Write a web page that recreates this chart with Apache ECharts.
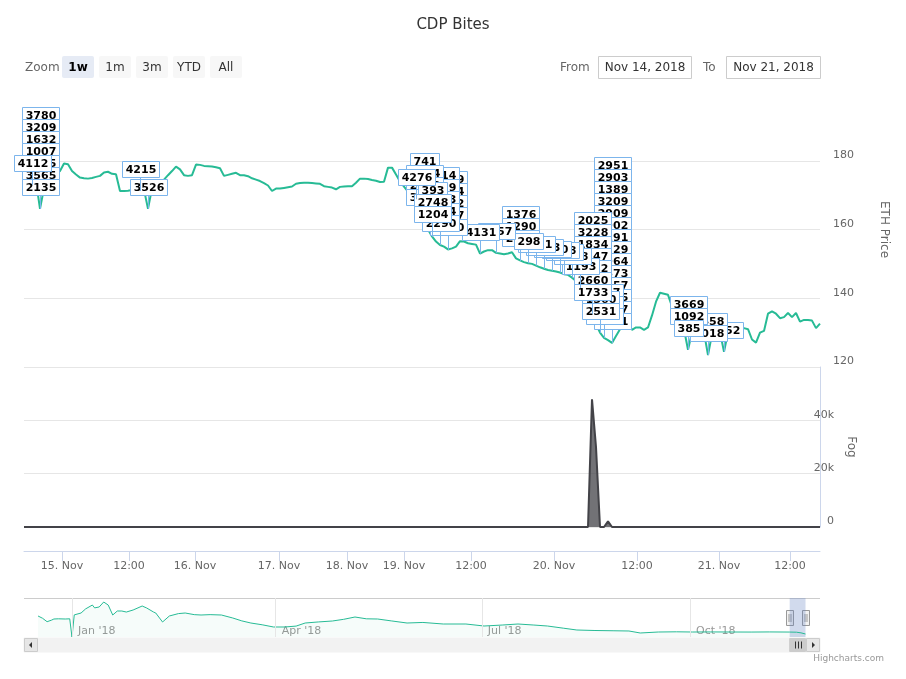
<!DOCTYPE html>
<html><head><meta charset="utf-8">
<script src="https://cdn.jsdelivr.net/npm/echarts@6/dist/echarts.min.js"></script>
<style>html,body{margin:0;padding:0;background:#fff}#c{width:906px;height:679px}</style>
</head><body><div id="c"></div>
<script>
// ---------- DATA ----------
// ETH price, one value per ordinal (evenly spaced) point, 14 Nov -> 21 Nov 2018
const priceValues = [
175,176,173,174,166,172,174.5,175.5,176,177,
179.2,179,177,176,175.1,174.9,174.8,175,175.3,175.6,
176.6,176.8,176.2,176.1,171.2,171.2,171.3,171.5,171.4,171.2,
171.6,166,172,172.5,173,174.5,175.8,177,178.3,177.5,
175.8,175.6,175.8,178.9,178.8,178.5,178.4,178.3,178.1,177.8,
175.6,175.9,176.2,176.5,175.8,175.8,175.5,174.9,174.5,174.1,
173.5,172.8,171.2,171.9,171.9,172.1,172.3,172.5,173.3,173.5,
173.6,173.6,173.5,173.4,173.3,172.6,172.4,172.2,171.7,172.4,
172.5,172.6,172.6,173.6,174.8,174.8,174.7,174.4,174.2,173.8,
173.9,178,178,176,174,172.5,171,170,168.8,166,
163,160,158,156.5,155.5,155,154.2,154.5,155,156.6,
156.5,156,155.8,155.6,153,153.6,154,154,153.2,153,
152.8,153,153.4,151.6,151,150.5,150.2,150,149.5,149,
148.6,148.2,148,147.8,147.5,147,146.8,146,145,143,
140.5,138,135.5,132.5,130,128.5,127.8,127,129,131,
132,133,130.8,131.5,131.5,130.8,131.5,135,139,141.6,
141.3,141,137.6,134,132,131,125,130,130.5,130.2,
130,123.5,129.5,130,130.2,124.4,130,130.5,130.8,131,
131.3,131,128,127.1,130,130.5,135.5,136.2,135.5,134.2,
134.5,135.7,134.5,135.7,133.2,133.7,133.7,133.5,131.3,132.6
];
// x-axis tick labels and their ordinal positions
const xTickPositions = [9.5, 26.25, 42.75, 63.75, 80.75, 95, 111.75, 132.5, 153.25, 173.75, 191.5];
const xTickLabels = ['15. Nov','12:00','16. Nov','17. Nov','18. Nov','19. Nov','12:00','20. Nov','12:00','21. Nov','12:00'];
// Fog (non-zero points only, every other point is 0)
const fogPoints = [[142, 47900], [143, 30000], [146, 2100]];
// Bite flags: [ordinal point, bite id]
const flagList = [
  [2,'4112'],
  [4,'2135'],[4,'3565'],[4,'1525'],[4,'1007'],[4,'1632'],[4,'3209'],[4,'3780'],
  [29,'4215'],[31,'3526'],
  [98,'4276'],
  [102,'1204'],[102,'2748'],[102,'393'],
  [100,'3264'],[100,'2810'],[100,'1954'],[100,'741'],
  [104,'2290'],[104,'5264'],[104,'1733'],[104,'3019'],[104,'2214'],
  [106,'1450'],[106,'2377'],[106,'3102'],[106,'2664'],[106,'1849'],
  [114,'4131'],[118,'2157'],
  [126,'298'],
  [124,'2870'],[124,'1290'],[124,'1376'],
  [128,'1861'],[130,'2413'],[132,'3320'],[134,'1178'],
  [135,'3358'],[137,'2708'],[139,'1193'],
  [142,'1733'],[142,'2660'],[142,'3412'],[142,'1247'],[142,'1834'],[142,'3228'],[142,'2025'],
  [144,'2531'],[144,'1560'],[145,'3874'],[145,'2289'],[145,'1047'],
  [147,'1421'],[147,'2207'],[147,'3015'],[147,'3257'],[147,'2873'],[147,'1964'],[147,'2729'],
  [147,'3191'],[147,'1902'],[147,'2909'],[147,'3209'],[147,'1389'],[147,'2903'],[147,'2951'],
  [166,'385'],[166,'1092'],[166,'3669'],
  [171,'1018'],[171,'2458'],
  [175,'4152']
];
// Navigator (whole history)
const navDates = ['2017-12-17','2017-12-19','2017-12-21','2017-12-23','2017-12-24','2017-12-26','2017-12-29','2017-12-31',
 '2018-01-01','2018-01-02','2018-01-05','2018-01-07','2018-01-10','2018-01-11','2018-01-13','2018-01-15','2018-01-17',
 '2018-01-19','2018-01-21','2018-01-23','2018-01-25','2018-01-28','2018-02-01','2018-02-03','2018-02-06','2018-02-07',
 '2018-02-10','2018-02-13','2018-02-17','2018-02-20','2018-02-24','2018-02-27','2018-03-03','2018-03-08','2018-03-13',
 '2018-03-17','2018-03-21','2018-03-26','2018-03-31','2018-04-05','2018-04-10','2018-04-14','2018-04-20','2018-04-26',
 '2018-05-01','2018-05-06','2018-05-11','2018-05-16','2018-05-22','2018-05-29','2018-06-05','2018-06-14','2018-06-24',
 '2018-07-02','2018-07-10','2018-07-17','2018-07-24','2018-07-30','2018-08-06','2018-08-12','2018-08-20','2018-08-28',
 '2018-09-04','2018-09-09','2018-09-17','2018-09-25','2018-10-02','2018-10-10','2018-10-20','2018-10-28','2018-11-05',
 '2018-11-14','2018-11-17','2018-11-19','2018-11-21'];
const navValues = [808,720,588,650,692,700,692,700,
 0,850,923,1080,1230,1120,1154,1346,1230,
 846,1000,1000,960,1038,1192,1115,961,923,
 577,808,900,923,860,846,860,846,731,
 620,538,470,385,385,420,538,580,615,
 680,769,700,692,620,538,560,500,500,
 423,460,500,460,423,340,269,250,240,
 231,154,192,200,192,195,192,190,195,
 190,185,160,115];
const navTickDates = ['2018-01-01','2018-04-01','2018-07-01','2018-10-01'];
const navTickLabels = ["Jan '18","Apr '18","Jul '18","Oct '18"];
const rangeButtons = ['1w','1m','3m','YTD','All'];
const selectedButton = 0;
const fromText = 'Nov 14, 2018', toText = 'Nov 21, 2018';
const selStart = '2018-11-14', selEnd = '2018-11-21';

// ---------- BUILD ----------
const FONT = 'DejaVu Sans';
const LINE = '#27bb95';
const FLAG = '#7cb5ec';
const ts = s => { const [y,m,d] = s.split('-').map(Number); return Date.UTC(y, m-1, d); };
const DAY = 86400000;
const navMin = ts('2018-01-01') - 21.2*DAY, navMax = ts('2018-01-01') + 330.4*DAY;

const priceData = priceValues.map((v,i)=>[i,v]);
const fogValues = priceValues.map(()=>0);
fogPoints.forEach(([i,v])=>{ fogValues[i]=v; });
const fogData = fogValues.map((v,i)=>[i,v]);
const stackCount = {};
const flagItems = flagList.map(([i,label])=>{ const s = stackCount[i]||0; stackCount[i]=s+1; return {i,label,stack:s,price:priceValues[i]}; });
const drawOrder = flagItems.slice().reverse();
const navData = navDates.map((d,i)=>[ts(d), navValues[i]]);
const navTicks = navTickDates.map(ts);
const near = (arr, v) => arr.findIndex(a => Math.abs(a - v) < 1e-6 * Math.max(1, Math.abs(a)));

const chart = echarts.init(document.getElementById('c'));
const option = {
  animation:false,
  backgroundColor:'#fff',
  title:{text:'CDP Bites', left:'center', top:13, textStyle:{fontFamily:FONT, fontSize:15, fontWeight:'normal', color:'#333'}},
  grid:[
    {left:24, right:86, top:92, height:275},
    {left:24, right:86, top:367, height:160},
    {left:24, right:86, top:598, height:39}
  ],
  xAxis:[
    {gridIndex:0, type:'value', min:0, max:priceValues.length-1, show:false},
    {gridIndex:1, type:'value', min:0, max:priceValues.length-1, offset:24,
     axisLine:{onZero:false, lineStyle:{color:'#ccd6eb'}},
     axisTick:{show:true, length:10, lineStyle:{color:'#ccd6eb'}, customValues:xTickPositions},
     axisLabel:{customValues:xTickPositions, formatter:v=>{const k=near(xTickPositions,v); return k>=0?xTickLabels[k]:'';},
       color:'#666', fontSize:11, fontFamily:FONT, margin:10},
     splitLine:{show:false}},
    {gridIndex:2, type:'value', min:navMin, max:navMax,
     axisLine:{show:false, onZero:false}, axisTick:{show:false, customValues:navTicks}, splitLine:{show:false},
     axisLabel:{customValues:navTicks, formatter:v=>{const k=near(navTicks,v); return k>=0?navTickLabels[k]:'';},
       inside:true, align:'left', padding:[0,0,0,6], margin:0, color:'#999', fontSize:11, fontFamily:FONT}}
  ],
  yAxis:[
    {gridIndex:0, type:'value', position:'right', min:120, max:200, interval:20,
     name:'ETH Price', nameLocation:'middle', nameGap:58, nameRotate:-90,
     nameTextStyle:{color:'#666', fontSize:12, fontFamily:FONT},
     axisLine:{show:false, onZero:false}, axisTick:{show:false},
     axisLabel:{color:'#666', fontSize:11, fontFamily:FONT, margin:13, verticalAlign:'bottom',
       formatter:v=> v<200 ? String(v) : ''},
     splitLine:{lineStyle:{color:['#e6e6e6','#e6e6e6','#e6e6e6','#e6e6e6','rgba(0,0,0,0)']}}},
    {gridIndex:1, type:'value', position:'right', min:0, max:60000, interval:20000,
     name:'Fog', nameLocation:'middle', nameGap:24, nameRotate:-90,
     nameTextStyle:{color:'#666', fontSize:12, fontFamily:FONT},
     axisLine:{show:true, onZero:false, lineStyle:{color:'#ccd6eb', width:1}}, axisTick:{show:false},
     axisLabel:{color:'#666', fontSize:11, fontFamily:FONT, margin:14, align:'right', verticalAlign:'bottom',
       formatter:v=> v===0 ? '0' : (v<60000 ? (v/1000)+'k' : '')},
     splitLine:{lineStyle:{color:'#e6e6e6'}}},
    {gridIndex:2, type:'value', min:0, max:1500, show:false}
  ],
  series:[
    {type:'line', name:'ETH Price', xAxisIndex:0, yAxisIndex:0, data:priceData, showSymbol:false, symbol:'none',
     lineStyle:{color:LINE, width:2}, itemStyle:{color:LINE}, z:2},
    {type:'custom', name:'Bites', xAxisIndex:0, yAxisIndex:0, clip:false, z:5,
     data:drawOrder.map(f=>[f.i, f.price, f.stack]),
     renderItem:(params, api)=>{
       const f = drawOrder[params.dataIndex];
       const pt = api.coord([api.value(0), api.value(1)]);
       const w = Math.round(f.label.length*7.7 + 6);
       const h = 16;
       const top = Math.round(pt[1] - 30 - f.stack*12);
       const left = Math.round(pt[0] - w/2);
       return {type:'group', children:[
         {type:'line', shape:{x1:Math.round(pt[0])+0.5, y1:top+h, x2:Math.round(pt[0])+0.5, y2:pt[1]}, style:{stroke:FLAG, lineWidth:1}},
         {type:'rect', shape:{x:left+0.5, y:top+0.5, width:w, height:h}, style:{fill:'#fff', stroke:FLAG, lineWidth:1}},
         {type:'text', style:{text:f.label, x:left+w/2+0.5, y:top+h/2+1, align:'center', verticalAlign:'middle', fill:'#000',
           font:'bold 11px "DejaVu Sans"'}}
       ]};
     }},
    {type:'line', name:'Fog', xAxisIndex:1, yAxisIndex:1, data:fogData, showSymbol:false, symbol:'none',
     lineStyle:{color:'#434348', width:2}, itemStyle:{color:'#434348'}, areaStyle:{color:'#434348', opacity:0.75}},
    {type:'line', name:'Navigator', xAxisIndex:2, yAxisIndex:2, data:navData, showSymbol:false, symbol:'none',
     lineStyle:{color:LINE, width:1}, itemStyle:{color:LINE}, areaStyle:{color:'rgba(39,187,149,0.06)'},
     markLine:{silent:true, symbol:'none', label:{show:false}, lineStyle:{color:'#e6e6e6', width:1, type:'solid'},
       data:navTicks.map(t=>({xAxis:t}))},
     markArea:{silent:true, itemStyle:{color:'rgba(102,133,194,0.3)'}, data:[[{xAxis:ts(selStart)},{xAxis:ts(selEnd)}]]}}
  ]
};
chart.setOption(option);

// ---------- range selector, navigator handles, scrollbar ----------
const x0 = chart.convertToPixel({xAxisIndex:2}, ts(selStart));
const x1 = chart.convertToPixel({xAxisIndex:2}, ts(selEnd));
const g = [];
g.push({type:'text', style:{text:'Zoom', x:25, y:68, verticalAlign:'middle', fill:'#666', font:'12px "DejaVu Sans"'}});
rangeButtons.forEach((b,k)=>{
  const bx = 62 + k*37;
  g.push({type:'rect', shape:{x:bx, y:56, width:32, height:22, r:2}, style:{fill: k===selectedButton?'#e6ebf5':'#f7f7f7'}});
  g.push({type:'text', style:{text:b, x:bx+16, y:67.5, align:'center', verticalAlign:'middle',
    fill: k===selectedButton?'#000':'#333', font:(k===selectedButton?'bold ':'')+'12px "DejaVu Sans"'}});
});
g.push({type:'text', style:{text:'From', x:560, y:67.5, verticalAlign:'middle', fill:'#666', font:'12px "DejaVu Sans"'}});
g.push({type:'rect', shape:{x:598.5, y:56.5, width:93, height:22}, style:{fill:'#fff', stroke:'#cccccc', lineWidth:1}});
g.push({type:'text', style:{text:fromText, x:645, y:67.5, align:'center', verticalAlign:'middle', fill:'#333', font:'12px "DejaVu Sans"'}});
g.push({type:'text', style:{text:'To', x:703, y:67.5, verticalAlign:'middle', fill:'#666', font:'12px "DejaVu Sans"'}});
g.push({type:'rect', shape:{x:726.5, y:56.5, width:94, height:22}, style:{fill:'#fff', stroke:'#cccccc', lineWidth:1}});
g.push({type:'text', style:{text:toText, x:773.5, y:67.5, align:'center', verticalAlign:'middle', fill:'#333', font:'12px "DejaVu Sans"'}});
// navigator outline
g.push({type:'line', shape:{x1:24, y1:598.5, x2:820, y2:598.5}, style:{stroke:'#cccccc', lineWidth:1}});
// handles
[x0, x1].forEach(hx=>{
  const rx = Math.round(hx) - 3.5;
  g.push({type:'rect', shape:{x:rx, y:610.5, width:7, height:15}, style:{fill:'#f2f2f2', stroke:'#999999', lineWidth:1}});
  g.push({type:'line', shape:{x1:rx+2.5, y1:614, x2:rx+2.5, y2:622}, style:{stroke:'#999999', lineWidth:1}});
  g.push({type:'line', shape:{x1:rx+4.5, y1:614, x2:rx+4.5, y2:622}, style:{stroke:'#999999', lineWidth:1}});
});
// scrollbar
g.push({type:'rect', shape:{x:24, y:638, width:796, height:14}, style:{fill:'#f2f2f2', stroke:'#f2f2f2'}});
g.push({type:'rect', shape:{x:24.5, y:638.5, width:13, height:13}, style:{fill:'#e6e6e6', stroke:'#cccccc', lineWidth:1}});
g.push({type:'polygon', shape:{points:[[29,645],[32,642],[32,648]]}, style:{fill:'#333'}});
g.push({type:'rect', shape:{x:806.5, y:638.5, width:13, height:13}, style:{fill:'#e6e6e6', stroke:'#cccccc', lineWidth:1}});
g.push({type:'polygon', shape:{points:[[815,645],[812,642],[812,648]]}, style:{fill:'#333'}});
g.push({type:'rect', shape:{x:x0, y:638.5, width:x1-x0, height:13}, style:{fill:'#cccccc', stroke:'#cccccc', lineWidth:1}});
const cx = (x0+x1)/2;
[-3,0,3].forEach(d=>g.push({type:'line', shape:{x1:Math.round(cx+d)+0.5, y1:641.5, x2:Math.round(cx+d)+0.5, y2:648.5}, style:{stroke:'#333', lineWidth:1}}));
// credits
g.push({type:'text', style:{text:'Highcharts.com', x:884, y:659, align:'right', verticalAlign:'middle', fill:'#999', font:'9px "DejaVu Sans"'}});
chart.setOption({graphic:g});
</script>
</body></html>
